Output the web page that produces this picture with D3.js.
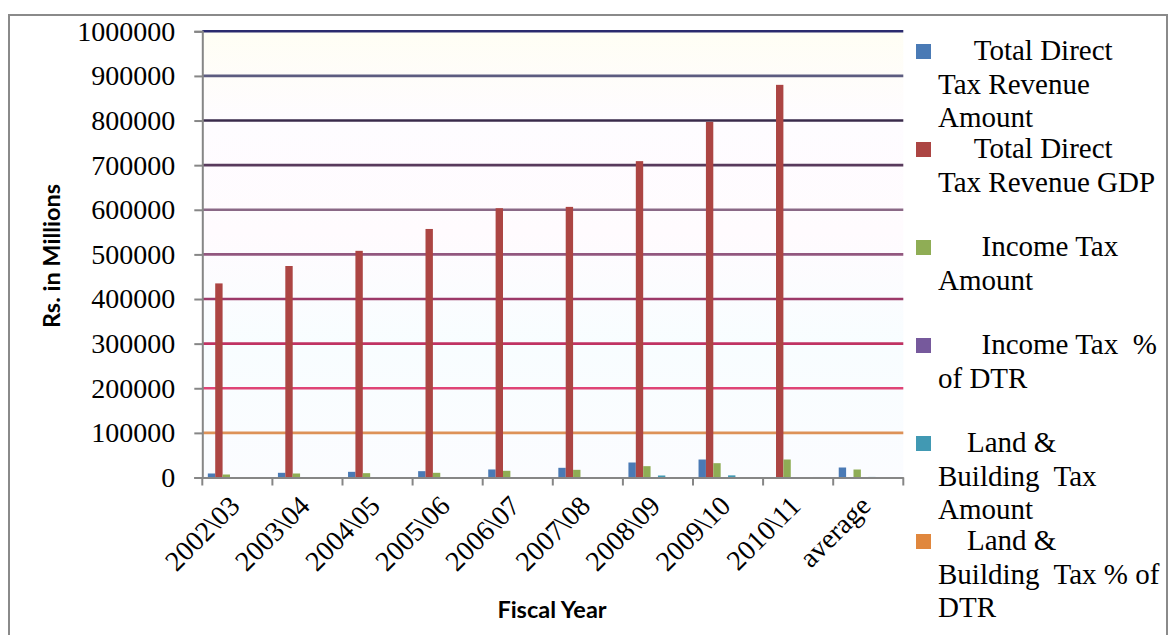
<!DOCTYPE html>
<html>
<head>
<meta charset="utf-8">
<script src="https://cdn.jsdelivr.net/npm/d3@7"></script>
<style>
  body { margin: 0; background: #fff; }
  svg { display: block; }
  .serif { font-family: "Liberation Serif", "Times New Roman", serif; }
  .title { font-family: Lato, "Open Sans", sans-serif; font-weight: 700; }
</style>
</head>
<body>
<svg id="chart" width="1170" height="635"></svg>
<script>
// ---- data (Rs. in millions) ----
const fiscalYears = ["2002\\03", "2003\\04", "2004\\05", "2005\\06", "2006\\07",
                     "2007\\08", "2008\\09", "2009\\10", "2010\\11", "average"];

const totalDirectTaxAmount  = [9000, 10500, 12700, 14200, 18000, 21700, 33600, 40300, 0, 22400];
const totalDirectTaxGDP     = [435000, 474000, 508000, 557000, 603500, 606500, 709000, 797000, 880000, 0];
const incomeTaxAmount       = [6700, 9000, 9700, 10500, 15000, 17200, 25400, 32100, 40300, 17900];
const incomeTaxPctOfDTR     = [74, 86, 76, 74, 83, 79, 76, 80, 0, 78];
const landBuildingTaxAmount = [300, 400, 500, 600, 800, 1000, 4500, 4800, 900, 1300];
const landBuildingTaxPct    = [3, 4, 4, 4, 4, 5, 13, 12, 0, 6];
const otherTaxAmount        = [0, 0, 0, 0, 0, 0, 0, 0, 1200, 0];
const otherTaxPct           = [0, 0, 0, 0, 0, 0, 0, 0, 0, 0];

const seriesValues = [totalDirectTaxAmount, totalDirectTaxGDP, incomeTaxAmount, incomeTaxPctOfDTR,
                      landBuildingTaxAmount, landBuildingTaxPct, otherTaxAmount, otherTaxPct];

// legend text, already broken into lines (leading spaces are part of the label layout)
const legendLines = [
  ["     Total Direct", "Tax Revenue", "Amount"],
  ["     Total Direct", "Tax Revenue GDP"],
  ["      Income Tax", "Amount"],
  ["      Income Tax  %", "of DTR"],
  ["    Land &", "Building  Tax", "Amount"],
  ["    Land &", "Building  Tax % of", "DTR"]
];

const yTickValues = d3.range(0, 1000001, 100000);

// ---- styles ----
const seriesColors = ["#4a7ab5", "#ac4543", "#8fad55", "#76599c", "#4199b3", "#e0873d", "#9cc0dc", "#d6a6a4"];
const gridColors = {
  100000: ["#dd9258", "#f8c89a"],
  200000: ["#df4476", "#f7a2bf"],
  300000: ["#c03363", "#f1a3c0"],
  400000: ["#9c3969", "#e9aecd"],
  500000: ["#92577f", "#e6bcd8"],
  600000: ["#8a6886", "#e4c8de"],
  700000: ["#583a5c", "#d7bcd8"],
  800000: ["#3a2b4b", "#d2c3e0"],
  900000: ["#5c5c80", "#cfcfe8"],
  1000000: ["#2a2a6e", "#c0c0e8"]
};

const svg = d3.select("#chart");
const plot = { left: 202.3, right: 903.3, top: 31.3, bottom: 477.5 };

// outer chart border
svg.append("rect")
  .attr("x", 9).attr("y", 15).attr("width", 1158).attr("height", 640)
  .attr("fill", "#fff").attr("stroke", "#8a8a8a").attr("stroke-width", 2);

const defs = svg.append("defs");
const bg = defs.append("linearGradient").attr("id", "plotBg")
  .attr("x1", 0).attr("y1", 0).attr("x2", 0).attr("y2", 1);
[["0%", "#fffef4"], ["20%", "#fefcff"], ["45%", "#fffbfe"], ["70%", "#f8fdff"], ["100%", "#fbfcff"]]
  .forEach(([o, c]) => bg.append("stop").attr("offset", o).attr("stop-color", c));
defs.append("filter").attr("id", "glow").attr("x", "-5%").attr("y", "-400%").attr("width", "110%").attr("height", "900%")
  .append("feGaussianBlur").attr("stdDeviation", 1.8);

// ---- scales ----
const x = d3.scaleBand().domain(fiscalYears).range([plot.left, plot.right]).padding(0);
const xInner = d3.scaleBand().domain(d3.range(seriesValues.length))
  .range([0, x.bandwidth()]).paddingInner(0).paddingOuter(0.75);
const y = d3.scaleLinear().domain([0, 1000000]).range([plot.bottom, plot.top]);

// plot background
svg.append("rect")
  .attr("x", plot.left).attr("y", plot.top)
  .attr("width", plot.right - plot.left).attr("height", plot.bottom - plot.top)
  .attr("fill", "url(#plotBg)");

// glowing gridlines
const grid = svg.append("g");
yTickValues.filter(v => v > 0).forEach(v => {
  const [core, halo] = gridColors[v];
  grid.append("line")
    .attr("x1", plot.left).attr("x2", plot.right).attr("y1", y(v)).attr("y2", y(v))
    .attr("stroke", halo).attr("stroke-width", 8).attr("filter", "url(#glow)");
  grid.append("line")
    .attr("x1", plot.left).attr("x2", plot.right).attr("y1", y(v)).attr("y2", y(v))
    .attr("stroke", core).attr("stroke-width", 2.6);
});

// bars
const groups = svg.append("g").selectAll("g")
  .data(fiscalYears)
  .join("g")
  .attr("transform", d => `translate(${x(d)},0)`);

groups.selectAll("rect")
  .data((d, i) => seriesValues.map((vals, s) => ({ s, v: vals[i] })))
  .join("rect")
  .attr("x", d => xInner(d.s))
  .attr("width", xInner.bandwidth())
  .attr("y", d => y(d.v))
  .attr("height", d => y(0) - y(d.v))
  .attr("fill", d => seriesColors[d.s]);

// y axis
const yAxis = svg.append("g")
  .attr("transform", `translate(${plot.left},0)`)
  .call(d3.axisLeft(y).tickValues(yTickValues).tickSize(8).tickPadding(19).tickFormat(d3.format("d")));
yAxis.attr("font-family", null);
yAxis.select(".domain").attr("stroke", "#868686").attr("stroke-width", 2);
yAxis.selectAll(".tick line").attr("stroke", "#868686").attr("stroke-width", 2);
yAxis.selectAll(".tick text")
  .attr("class", "serif").attr("font-size", 28).attr("fill", "#000");

// x axis (ticks sit between categories)
const xAxis = svg.append("g")
  .attr("transform", `translate(0,${plot.bottom})`)
  .call(d3.axisBottom(x).tickSize(0).tickFormat(""));
xAxis.select(".domain").attr("stroke", "#868686").attr("stroke-width", 2);
const edges = fiscalYears.map(d => x(d)).concat([x.range()[1]]);
xAxis.selectAll(".edge")
  .data(edges)
  .join("line")
  .attr("class", "edge")
  .attr("x1", d => d).attr("x2", d => d)
  .attr("y1", 0).attr("y2", 8)
  .attr("stroke", "#868686").attr("stroke-width", 2);

svg.append("g").selectAll("text")
  .data(fiscalYears)
  .join("text")
  .attr("class", "serif")
  .attr("font-size", 28)
  .attr("text-anchor", "end")
  .attr("transform", d => `translate(${x(d) + x.bandwidth() / 2 + 4},${plot.bottom + 30}) rotate(-45)`)
  .text(d => d);

// axis titles
svg.append("text")
  .attr("class", "title")
  .attr("font-size", 23.5)
  .attr("text-anchor", "middle")
  .attr("transform", `translate(60,256) rotate(-90)`)
  .text("Rs. in Millions");

svg.append("text")
  .attr("class", "title")
  .attr("font-size", 23.5)
  .attr("text-anchor", "middle")
  .attr("x", 552).attr("y", 618)
  .text("Fiscal Year");

// legend
const legend = svg.append("g").attr("class", "serif");
legendLines.forEach((lines, i) => {
  const top = 44 + i * 98;
  legend.append("rect")
    .attr("x", 916).attr("y", top).attr("width", 15).attr("height", 15)
    .attr("fill", seriesColors[i]);
  const t = legend.append("text")
    .attr("font-size", 29)
    .attr("fill", "#000")
    .style("white-space", "pre");
  lines.forEach((line, k) => {
    t.append("tspan")
      .attr("x", 938)
      .attr("y", top + 16 + k * 33.5)
      .text(line);
  });
});
</script>
</body>
</html>
